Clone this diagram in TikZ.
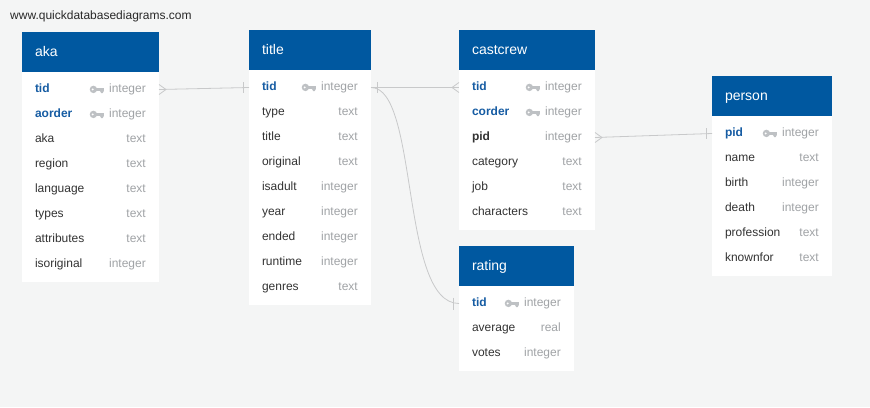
\documentclass[tikz,border=0pt]{standalone}
\usepackage{fontspec}
\setmainfont{Liberation Sans}
\usetikzlibrary{
  positioning,
  calc
}
\definecolor{pagebgcolor}{RGB}{244, 245, 245}
\definecolor{headcolor}{RGB}{0, 88, 160}
\definecolor{keycolor}{RGB}{22, 92, 163}
\definecolor{fieldcolor}{RGB}{51, 51, 51}
\definecolor{typecolor}{RGB}{160, 163, 166}
\definecolor{iconcolor}{RGB}{190, 193, 196}
\definecolor{relcolor}{RGB}{200, 201, 202}
\definecolor{sitecolor}{RGB}{40, 40, 40}
\newcommand{\tblheadfont}{\fontsize{14}{16}\selectfont}
\newcommand{\tblrowfont}{\fontsize{12}{14}\selectfont}
\tikzset{
rowwidth/.style={
  text width=100pt
},
tablehead/.style={
  rectangle,
  fill=headcolor,
  text=white,
  inner xsep=13pt,
  inner ysep=0pt,
  outer sep=0pt,
  minimum height=40pt,
  text height=11pt,
  text depth=2.5pt,
  align=left,
  font=\tblheadfont,
  rowwidth
},
tablebody/.style={
  rectangle,
  fill=white,
  inner xsep=13pt,
  inner ysep=0pt,
  outer sep=0pt,
  rowwidth
},
field/.style={
  rectangle,
  inner xsep=13pt,
  inner ysep=0pt,
  outer sep=0pt,
  minimum height=25pt,
  text height=9pt,
  text depth=3pt,
  align=left,
  font=\tblrowfont,
  text=fieldcolor,
  rowwidth
},
keyfield/.style={
  field,
  font=\tblrowfont\bfseries,
  text=keycolor
},
fkfield/.style={
  field,
  font=\tblrowfont\bfseries
},
fieldtype/.style={
  anchor=base east,
  inner sep=0pt,
  font=\tblrowfont,
  text=typecolor
},
sitelabel/.style={
  anchor=base west,
  inner sep=0pt,
  font=\tblrowfont,
  text=sitecolor
},
rel/.style={
  draw=relcolor,
  line width=0.8pt
},
keyicon/.pic={
  \fill[iconcolor] (-10.5,0) circle[radius=3.7pt];
  \fill[white] (-11.2,0) circle[radius=1.1pt];
  \fill[iconcolor] (-8,-1.5) rectangle (0,1.5);
  \fill[iconcolor] (-4,1.5) -- (0,1.5) -- (-1.3,3.7) -- (-2.7,3.7) -- cycle;
}
}

\begin{document}
\begin{tikzpicture}[x=1pt, y=-1pt, node distance=0pt]
  \useasboundingbox (0,0) rectangle (870,407);
  \fill[pagebgcolor] (0,0) rectangle (870,407);

  \node[sitelabel] (site) at (10,19.5) {www.quickdatabasediagrams.com};

  % Table aka
  \begin{scope}[rowwidth/.style={text width=111pt}]
    \node[tablehead, anchor=north west] (aka) at (22,32) {aka};
    \node[tablebody, minimum height=210pt, below=of aka] (aka-body) {};
    \node[keyfield, below=5pt of aka] (aka-tid) {tid};
    \node[keyfield, below=of aka-tid] (aka-aorder) {aorder};
    \node[field, below=of aka-aorder] (aka-aka) {aka};
    \node[field, below=of aka-aka] (aka-region) {region};
    \node[field, below=of aka-region] (aka-language) {language};
    \node[field, below=of aka-language] (aka-types) {types};
    \node[field, below=of aka-types] (aka-attributes) {attributes};
    \node[field, below=of aka-attributes] (aka-isoriginal) {isoriginal};
    \node[fieldtype] (aka-tid-t) at ([xshift=-13pt]aka-tid.base east) {integer};
    \node[fieldtype] (aka-aorder-t) at ([xshift=-13pt]aka-aorder.base east) {integer};
    \node[fieldtype] (aka-aka-t) at ([xshift=-13pt]aka-aka.base east) {text};
    \node[fieldtype] (aka-region-t) at ([xshift=-13pt]aka-region.base east) {text};
    \node[fieldtype] (aka-language-t) at ([xshift=-13pt]aka-language.base east) {text};
    \node[fieldtype] (aka-types-t) at ([xshift=-13pt]aka-types.base east) {text};
    \node[fieldtype] (aka-attributes-t) at ([xshift=-13pt]aka-attributes.base east) {text};
    \node[fieldtype] (aka-isoriginal-t) at ([xshift=-13pt]aka-isoriginal.base east) {integer};
    \pic at ([xshift=-5pt]aka-tid-t.west) {keyicon};
    \pic at ([xshift=-5pt]aka-aorder-t.west) {keyicon};
  \end{scope}

  % Table title
  \begin{scope}[rowwidth/.style={text width=96pt}]
    \node[tablehead, anchor=north west] (title) at (249,30) {title};
    \node[tablebody, minimum height=235pt, below=of title] (title-body) {};
    \node[keyfield, below=5pt of title] (title-tid) {tid};
    \node[field, below=of title-tid] (title-type) {type};
    \node[field, below=of title-type] (title-title) {title};
    \node[field, below=of title-title] (title-original) {original};
    \node[field, below=of title-original] (title-isadult) {isadult};
    \node[field, below=of title-isadult] (title-year) {year};
    \node[field, below=of title-year] (title-ended) {ended};
    \node[field, below=of title-ended] (title-runtime) {runtime};
    \node[field, below=of title-runtime] (title-genres) {genres};
    \node[fieldtype] (title-tid-t) at ([xshift=-13pt]title-tid.base east) {integer};
    \node[fieldtype] (title-type-t) at ([xshift=-13pt]title-type.base east) {text};
    \node[fieldtype] (title-title-t) at ([xshift=-13pt]title-title.base east) {text};
    \node[fieldtype] (title-original-t) at ([xshift=-13pt]title-original.base east) {text};
    \node[fieldtype] (title-isadult-t) at ([xshift=-13pt]title-isadult.base east) {integer};
    \node[fieldtype] (title-year-t) at ([xshift=-13pt]title-year.base east) {integer};
    \node[fieldtype] (title-ended-t) at ([xshift=-13pt]title-ended.base east) {integer};
    \node[fieldtype] (title-runtime-t) at ([xshift=-13pt]title-runtime.base east) {integer};
    \node[fieldtype] (title-genres-t) at ([xshift=-13pt]title-genres.base east) {text};
    \pic at ([xshift=-5pt]title-tid-t.west) {keyicon};
  \end{scope}

  % Table castcrew
  \begin{scope}[rowwidth/.style={text width=110pt}]
    \node[tablehead, anchor=north west] (castcrew) at (459,30) {castcrew};
    \node[tablebody, minimum height=160pt, below=of castcrew] (castcrew-body) {};
    \node[keyfield, below=5pt of castcrew] (castcrew-tid) {tid};
    \node[keyfield, below=of castcrew-tid] (castcrew-corder) {corder};
    \node[fkfield, below=of castcrew-corder] (castcrew-pid) {pid};
    \node[field, below=of castcrew-pid] (castcrew-category) {category};
    \node[field, below=of castcrew-category] (castcrew-job) {job};
    \node[field, below=of castcrew-job] (castcrew-characters) {characters};
    \node[fieldtype] (castcrew-tid-t) at ([xshift=-13pt]castcrew-tid.base east) {integer};
    \node[fieldtype] (castcrew-corder-t) at ([xshift=-13pt]castcrew-corder.base east) {integer};
    \node[fieldtype] (castcrew-pid-t) at ([xshift=-13pt]castcrew-pid.base east) {integer};
    \node[fieldtype] (castcrew-category-t) at ([xshift=-13pt]castcrew-category.base east) {text};
    \node[fieldtype] (castcrew-job-t) at ([xshift=-13pt]castcrew-job.base east) {text};
    \node[fieldtype] (castcrew-characters-t) at ([xshift=-13pt]castcrew-characters.base east) {text};
    \pic at ([xshift=-5pt]castcrew-tid-t.west) {keyicon};
    \pic at ([xshift=-5pt]castcrew-corder-t.west) {keyicon};
  \end{scope}

  % Table rating
  \begin{scope}[rowwidth/.style={text width=89pt}]
    \node[tablehead, anchor=north west] (rating) at (459,246) {rating};
    \node[tablebody, minimum height=85pt, below=of rating] (rating-body) {};
    \node[keyfield, below=5pt of rating] (rating-tid) {tid};
    \node[field, below=of rating-tid] (rating-average) {average};
    \node[field, below=of rating-average] (rating-votes) {votes};
    \node[fieldtype] (rating-tid-t) at ([xshift=-13pt]rating-tid.base east) {integer};
    \node[fieldtype] (rating-average-t) at ([xshift=-13pt]rating-average.base east) {real};
    \node[fieldtype] (rating-votes-t) at ([xshift=-13pt]rating-votes.base east) {integer};
    \pic at ([xshift=-5pt]rating-tid-t.west) {keyicon};
  \end{scope}

  % Table person
  \begin{scope}[rowwidth/.style={text width=94pt}]
    \node[tablehead, anchor=north west] (person) at (712,76) {person};
    \node[tablebody, minimum height=160pt, below=of person] (person-body) {};
    \node[keyfield, below=5pt of person] (person-pid) {pid};
    \node[field, below=of person-pid] (person-name) {name};
    \node[field, below=of person-name] (person-birth) {birth};
    \node[field, below=of person-birth] (person-death) {death};
    \node[field, below=of person-death] (person-profession) {profession};
    \node[field, below=of person-profession] (person-knownfor) {knownfor};
    \node[fieldtype] (person-pid-t) at ([xshift=-13pt]person-pid.base east) {integer};
    \node[fieldtype] (person-name-t) at ([xshift=-13pt]person-name.base east) {text};
    \node[fieldtype] (person-birth-t) at ([xshift=-13pt]person-birth.base east) {integer};
    \node[fieldtype] (person-death-t) at ([xshift=-13pt]person-death.base east) {integer};
    \node[fieldtype] (person-profession-t) at ([xshift=-13pt]person-profession.base east) {text};
    \node[fieldtype] (person-knownfor-t) at ([xshift=-13pt]person-knownfor.base east) {text};
    \pic at ([xshift=-5pt]person-pid-t.west) {keyicon};
  \end{scope}

  % aka -> title (many to one)
  \draw[rel] (aka-tid.east) -- (title-tid.west);
  \draw[rel] ([yshift=5pt]aka-tid.east) -- ([xshift=7pt]aka-tid.east) -- ([yshift=-5pt]aka-tid.east);
  \draw[rel] ([xshift=-6pt,yshift=5.5pt]title-tid.west) -- ([xshift=-6pt,yshift=-5.5pt]title-tid.west);

  % title -> castcrew (one to many)
  \draw[rel] (title-tid.east) -- (castcrew-tid.west);
  \draw[rel] ([xshift=6pt,yshift=5.5pt]title-tid.east) -- ([xshift=6pt,yshift=-5.5pt]title-tid.east);
  \draw[rel] ([yshift=5pt]castcrew-tid.west) -- ([xshift=-7pt]castcrew-tid.west) -- ([yshift=-5pt]castcrew-tid.west);

  % title -> rating (one to one)
  \draw[rel] (title-tid.east) .. controls +(48,0) and +(-59,0) .. (rating-tid.west);
  \draw[rel] ([xshift=-6pt,yshift=6pt]rating-tid.west) -- ([xshift=-6pt,yshift=-6pt]rating-tid.west);

  % castcrew -> person (many to one)
  \draw[rel] (castcrew-pid.east) -- (person-pid.west);
  \draw[rel] ([yshift=5pt]castcrew-pid.east) -- ([xshift=7pt]castcrew-pid.east) -- ([yshift=-5pt]castcrew-pid.east);
  \draw[rel] ([xshift=-6pt,yshift=5.5pt]person-pid.west) -- ([xshift=-6pt,yshift=-5.5pt]person-pid.west);
\end{tikzpicture}
\end{document}
